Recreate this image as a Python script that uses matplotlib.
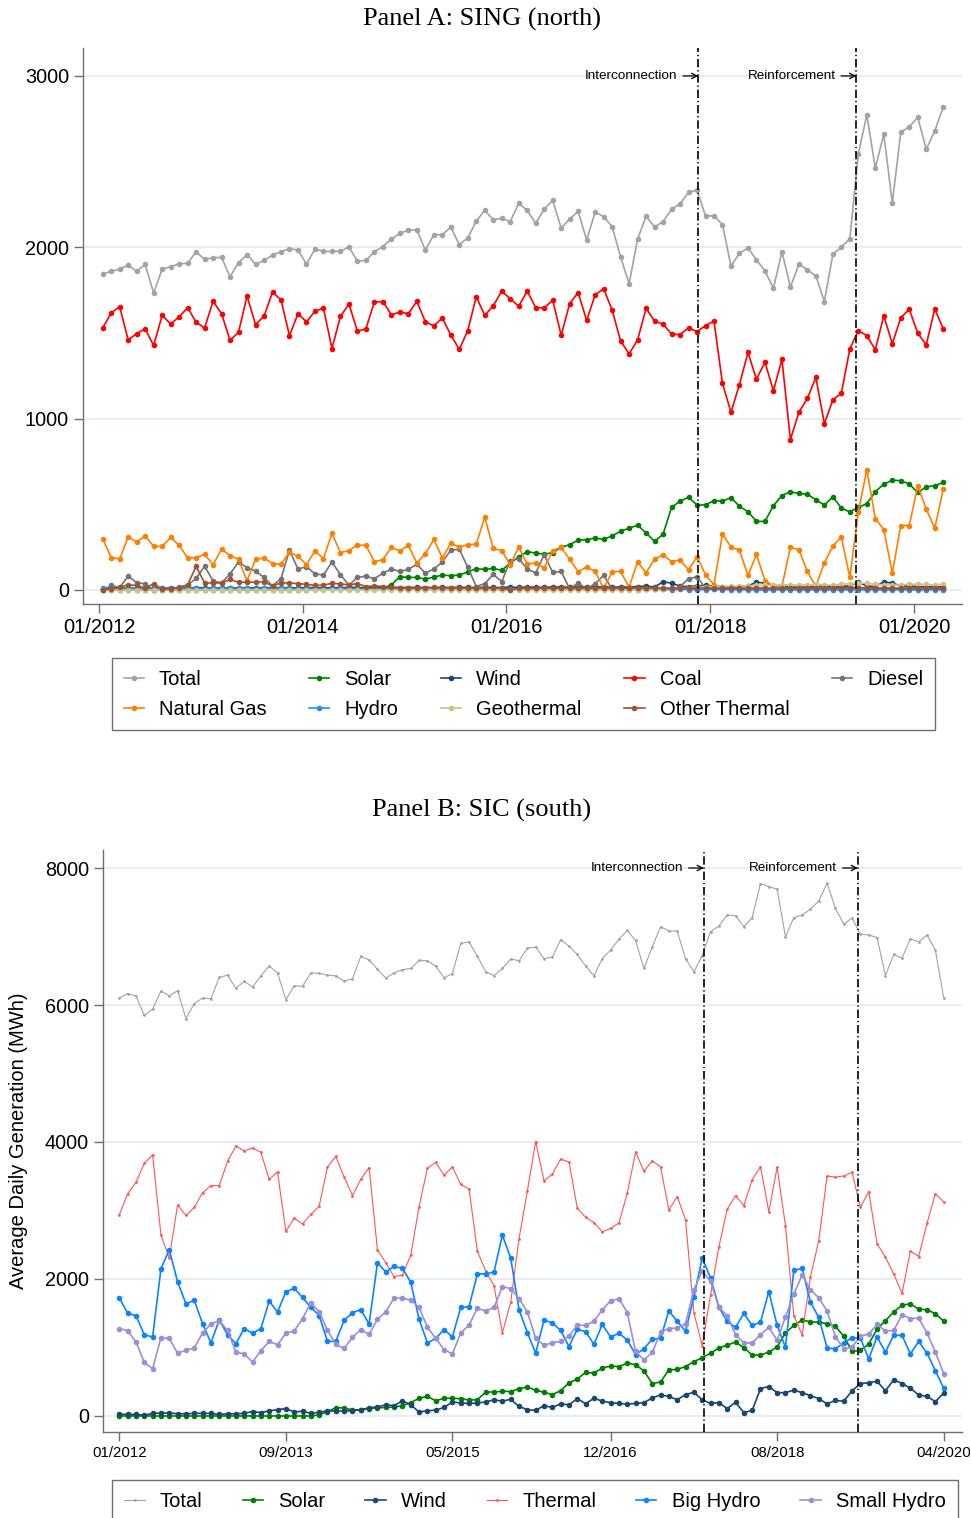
import numpy as np
import matplotlib
matplotlib.use('Agg')
from matplotlib import pyplot as plt

plt.rcParams['font.family'] = ['Liberation Sans', 'DejaVu Sans']

# ---- Panel A: SING (north), monthly 01/2012 - 04/2020 ----
sing_total = [1843, 1860, 1872, 1896, 1860, 1900, 1734, 1872, 1886, 1904, 1906, 1974, 1929, 1939, 1941, 1827, 1911, 1957, 1900, 1923, 1955, 1974, 1992, 1984, 1902,
              1990, 1976, 1976, 1976, 2002, 1919, 1923, 1974, 2004, 2047, 2081, 2100, 2102, 1984, 2073, 2073, 2118, 2016, 2055, 2152, 2217, 2161, 2169, 2150, 2256,
              2215, 2140, 2222, 2274, 2112, 2165, 2209, 2043, 2205, 2179, 2120, 1943, 1787, 2047, 2181, 2118, 2150, 2222, 2254, 2321, 2333, 2183, 2183, 2132, 1890,
              1965, 1996, 1927, 1862, 1760, 1974, 1768, 1902, 1868, 1833, 1683, 1959, 2002, 2049, 2545, 2774, 2461, 2661, 2258, 2671, 2703, 2758, 2571, 2679, 2817]
sing_coal = [1530, 1616, 1654, 1459, 1496, 1524, 1427, 1602, 1553, 1593, 1648, 1563, 1528, 1685, 1612, 1457, 1504, 1715, 1549, 1598, 1738, 1693, 1484, 1612, 1565,
             1626, 1646, 1409, 1596, 1669, 1510, 1524, 1681, 1683, 1606, 1622, 1612, 1685, 1565, 1541, 1587, 1488, 1404, 1514, 1711, 1602, 1659, 1744, 1699, 1656,
             1744, 1648, 1646, 1691, 1486, 1671, 1736, 1573, 1722, 1758, 1634, 1453, 1378, 1459, 1644, 1569, 1551, 1494, 1490, 1530, 1508, 1543, 1569, 1205, 1037,
             1199, 1386, 1230, 1329, 1163, 1346, 878, 1037, 1118, 1240, 970, 1110, 1148, 1407, 1514, 1484, 1402, 1600, 1437, 1589, 1638, 1498, 1431, 1640, 1524]
sing_gas = [299, 189, 181, 311, 280, 315, 254, 254, 307, 260, 187, 189, 207, 148, 238, 201, 179, 53, 179, 187, 154, 150, 220, 197, 148,
            228, 183, 331, 217, 230, 262, 260, 165, 177, 248, 228, 260, 157, 211, 295, 187, 272, 250, 264, 268, 425, 242, 230, 146, 250,
            152, 157, 128, 230, 248, 179, 106, 134, 108, 8, 106, 108, 16, 163, 100, 181, 205, 165, 175, 118, 193, 89, 30, 327, 250,
            232, 85, 207, 55, 24, 20, 250, 234, 108, 20, 159, 256, 309, 73, 457, 701, 417, 352, 98, 376, 376, 608, 472, 360, 587]
sing_solar = [0, 0, 0, 0, 0, 0, 0, 0, 0, 0, 0, 0, 0, 0, 0, 0, 0, 0, 0, 0, 0, 0, 0, 0, 2,
              3, 3, 4, 5, 5, 6, 8, 9, 10, 30, 77, 73, 73, 63, 75, 87, 83, 87, 106, 124, 120, 126, 114, 157, 193,
              224, 215, 209, 217, 250, 264, 291, 293, 303, 295, 315, 343, 360, 378, 333, 283, 325, 482, 518, 541, 496, 496, 522, 518, 539,
              488, 457, 400, 400, 492, 551, 573, 563, 559, 526, 496, 543, 478, 455, 482, 504, 573, 618, 640, 638, 618, 569, 602, 608, 628]
sing_diesel = [0, 26, 14, 81, 43, 35, 2, 0, 8, 16, 28, 67, 138, 53, 41, 94, 163, 130, 110, 73, 24, 65, 232, 122, 136,
               94, 87, 163, 89, 28, 73, 81, 65, 98, 122, 108, 120, 150, 98, 122, 163, 232, 238, 132, 20, 37, 91, 49, 169, 183,
               122, 100, 205, 102, 108, 6, 41, 6, 37, 85, 6, 5, 8, 4, 6, 5, 7, 4, 20, 65, 77, 10, 8, 6, 9,
               7, 6, 8, 5, 7, 9, 6, 8, 5, 7, 6, 8, 9, 12, 15, 10, 8, 6, 9, 7, 8, 6, 9, 7, 8]
sing_other = [0, 8, 16, 30, 26, 10, 37, 4, 8, 14, 30, 138, 41, 41, 41, 61, 45, 45, 45, 47, 24, 41, 41, 37, 33,
              26, 28, 39, 35, 30, 37, 20, 24, 20, 16, 14, 14, 13, 14, 15, 14, 13, 12, 12, 13, 12, 11, 12, 0, 10,
              10, 10, 12, 10, 11, 12, 10, 11, 10, 12, 11, 10, 12, 11, 10, 12, 11, 10, 12, 11, 10, 12, 11, 10, 12,
              11, 10, 12, 11, 10, 12, 11, 10, 12, 11, 10, 12, 11, 10, 12, 11, 10, 12, 11, 10, 12, 11, 10, 12, 11]
sing_wind = [8, 9, 10, 9, 11, 10, 12, 11, 10, 12, 11, 13, 12, 11, 12, 13, 12, 11, 13, 12, 14, 13, 12, 13, 14,
             13, 12, 14, 13, 15, 14, 13, 12, 14, 15, 13, 14, 15, 14, 13, 15, 14, 16, 15, 14, 16, 15, 14, 16, 15,
             17, 16, 15, 18, 17, 16, 18, 17, 19, 18, 16, 18, 17, 20, 22, 18, 47, 40, 22, 20, 24, 26, 22, 20, 18,
             20, 24, 45, 40, 22, 20, 18, 16, 18, 20, 22, 18, 20, 24, 47, 22, 20, 47, 40, 24, 22, 20, 18, 20, 18]
sing_hydro = [12, 11, 12, 10, 11, 9, 8, 10, 11, 12, 10, 9, 8, 9, 10, 11, 10, 9, 8, 10, 11, 10, 9, 8, 9,
              8, 7, 8, 9, 8, 7, 6, 7, 8, 9, 8, 7, 6, 7, 8, 7, 6, 5, 6, 7, 6, 5, 6, 5, 6,
              5, 4, 5, 6, 5, 4, 3, 4, 5, 4, 3, 4, 3, 2, 3, 4, 3, 2, 3, 2, 1, 2, 3, 2, 1,
              0, 1, 0, -1, 0, 1, 0, -1, 0, 1, 0, -1, 0, 1, 0, 1, 0, -1, 0, 1, 0, -1, 0, 1, 0]
sing_geo = [0, 0, 0, 0, 0, 0, 0, 0, 0, 0, 0, 0, 0, 0, 0, 0, 0, 0, 0, 0, 0, 0, 0, 0, 0,
            0, 0, 0, 0, 0, 0, 0, 0, 0, 0, 0, 0, 0, 0, 0, 0, 0, 0, 0, 0, 0, 0, 0, 0, 0,
            0, 0, 0, 0, 0, 0, 0, 0, 0, 0, 0, 0, 0, 2, 4, 6, 8, 10, 12, 14, 16, 18, 20, 20, 22,
            22, 24, 26, 28, 28, 30, 30, 28, 30, 32, 30, 28, 34, 36, 38, 40, 32, 30, 28, 30, 32, 34, 32, 30, 34]

# ---- Panel B: SIC (south) ----
sic_total = [6102, 6166, 6134, 5848, 5940, 6204, 6134, 6209, 5800, 6021, 6102, 6091, 6403, 6436, 6242, 6349, 6263, 6425, 6570, 6468, 6080, 6279, 6274, 6468, 6463,
             6436, 6425, 6349, 6382, 6711, 6657, 6522, 6393, 6468, 6517, 6533, 6651, 6646, 6565, 6398, 6457, 6899, 6921, 6711, 6484, 6430, 6533, 6673, 6646, 6829,
             6845, 6678, 6700, 6953, 6861, 6738, 6570, 6425, 6678, 6802, 6959, 7088, 6942, 6533, 6851, 7142, 7082, 7077, 6678, 6484, 6721, 7072, 7153, 7314, 7304,
             7142, 7277, 7772, 7729, 7692, 6996, 7277, 7314, 7400, 7519, 7778, 7411, 7180, 7271, 7034, 7023, 6985, 6430, 6738, 6684, 6969, 6921, 7023, 6802, 6107]
sic_thermal = [2938, 3245, 3412, 3687, 3816, 2641, 2302, 3083, 2927, 3045, 3261, 3363, 3363, 3719, 3940, 3870, 3913, 3848, 3455, 3563, 2695, 2889, 2803, 2943, 3062,
               3638, 3789, 3487, 3218, 3455, 3627, 2426, 2237, 2032, 2059, 2350, 3056, 3617, 3703, 3514, 3638, 3380, 3315, 2409, 2113, 1903, 1213, 1660, 2587, 3283,
               4005, 3433, 3530, 3751, 3708, 3035, 2900, 2824, 2690, 2738, 2819, 3250, 3854, 3574, 3724, 3638, 3008, 3202, 2862, 1509, 1024, 1763, 2469, 3018, 3218,
               3072, 3450, 3638, 2981, 3633, 2776, 1466, 1186, 2032, 2560, 3504, 3487, 3504, 3557, 3045, 3277, 2517, 2318, 2075, 1789, 2409, 2328, 2814, 3245, 3126]
sic_bighydro = [1725, 1498, 1466, 1186, 1153, 2151, 2426, 1957, 1639, 1687, 1348, 1067, 1401, 1186, 1056, 1277, 1207, 1277, 1676, 1520, 1811, 1865, 1730, 1585, 1466,
                1089, 1089, 1396, 1509, 1552, 1342, 2237, 2102, 2183, 2156, 1951, 1412, 1067, 1132, 1261, 1153, 1585, 1595, 2075, 2075, 2102, 2641, 2307, 1552, 1218,
                916, 1401, 1358, 1250, 1013, 1267, 1229, 1046, 1337, 1153, 1207, 1110, 895, 981, 1121, 1132, 1536, 1380, 1240, 1736, 2307, 2016, 1590, 1380, 1294,
                1498, 1321, 1369, 1816, 1321, 1003, 2124, 2156, 1660, 1439, 992, 981, 1067, 1143, 1132, 835, 1153, 932, 1180, 1175, 906, 1089, 916, 663, 404]
sic_smallhydro = [1277, 1245, 1083, 782, 690, 1143, 1132, 916, 959, 992, 1213, 1342, 1391, 1250, 932, 906, 787, 954, 1089, 1040, 1207, 1240, 1423, 1649, 1520,
                  1250, 1046, 986, 1148, 1261, 1191, 1412, 1520, 1725, 1719, 1692, 1585, 1294, 1132, 970, 906, 1213, 1326, 1574, 1531, 1585, 1887, 1860, 1714, 1520,
                  1132, 1035, 1067, 1089, 1164, 1331, 1321, 1385, 1547, 1682, 1714, 1509, 943, 819, 927, 1224, 1277, 1283, 1348, 1843, 2113, 1967, 1585, 1466, 1186,
                  1067, 1067, 1186, 1294, 1105, 1445, 1779, 2059, 1843, 1725, 1531, 1159, 981, 1008, 1164, 1197, 1337, 1240, 1250, 1477, 1423, 1428, 1213, 933, 620]
sic_solar = [0, 0, 0, 0, 0, 0, 0, 0, 0, 0, 0, 0, 0, 0, 0, 0, 0, 0, 0, 0, 0, 0, 0, 0, 16,
             65, 119, 119, 86, 92, 108, 119, 124, 129, 151, 194, 259, 286, 221, 259, 259, 253, 232, 237, 350, 350, 361, 356, 399, 420,
             377, 345, 313, 367, 485, 539, 636, 625, 701, 728, 722, 771, 749, 658, 474, 496, 674, 679, 722, 792, 852, 916, 992, 1035, 1078,
             997, 889, 889, 932, 1008, 1213, 1321, 1401, 1374, 1369, 1348, 1310, 1164, 943, 959, 1051, 1267, 1391, 1520, 1617, 1639, 1558, 1552, 1493, 1385]
sic_wind = [27, 22, 22, 11, 38, 43, 43, 32, 32, 38, 38, 38, 22, 32, 32, 38, 65, 49, 75, 92, 108, 59, 70, 38, 54,
            75, 70, 75, 75, 92, 119, 135, 162, 151, 221, 162, 59, 75, 86, 124, 205, 189, 183, 189, 205, 237, 216, 243, 140, 92,
            81, 151, 124, 178, 162, 253, 178, 259, 216, 194, 183, 172, 183, 194, 264, 307, 286, 237, 313, 345, 237, 183, 194, 108, 200,
            50, 80, 400, 430, 340, 340, 378, 340, 297, 253, 178, 226, 216, 367, 474, 485, 507, 367, 529, 474, 404, 307, 286, 210, 334]

sing_ticks = [0, 24, 48, 72, 96]
sing_ticklabels = ['01/2012', '01/2014', '01/2016', '01/2018', '01/2020']
sic_ticks = [0, 20, 40, 59, 79, 99]
sic_ticklabels = ['01/2012', '09/2013', '05/2015', '12/2016', '08/2018', '04/2020']
# event dates (month index), as placed on each panel
events_A = [70.6, 89.2]
events_B = [70.2, 88.7]

W, H = 971, 1518
fig = plt.figure(figsize=(W / 100, H / 100), dpi=100)

months = np.arange(len(sing_total))


def style_axes(ax, ticks, labels, xfs):
    for s in ['top', 'right']:
        ax.spines[s].set_visible(False)
    for s in ['left', 'bottom']:
        ax.spines[s].set_color('#6e6e6e')
        ax.spines[s].set_linewidth(1.0)
    ax.grid(axis='y', color='#e6eef1', linewidth=1.4)
    ax.set_axisbelow(True)
    ax.set_xticks(ticks)
    ax.set_xticklabels(labels, fontsize=xfs)
    ax.tick_params(axis='both', direction='out', length=6.5, width=1.0, color='#6e6e6e')
    ax.tick_params(axis='y', labelsize=14.3)


def event_lines(ax, xs, ytext):
    for xpos, txt in zip(xs, ['Interconnection', 'Reinforcement']):
        ax.axvline(xpos, color='black', linewidth=1.2, linestyle=(0, (5, 1.7, 0.8, 1.7)), zorder=5)
        ax.annotate(txt, xy=(xpos, ytext), xytext=(-15, 0), textcoords='offset points',
                    ha='right', va='center', fontsize=9.7,
                    arrowprops=dict(arrowstyle='->', color='black', lw=0.9, shrinkA=2, shrinkB=0))


# Panel A
axA = fig.add_axes([83 / W, 1 - 604 / H, (962 - 83) / W, (604 - 48) / H])
xa = months + 0.44
seriesA = [
    ('Total', sing_total, '#a3a3a3'),
    ('Solar', sing_solar, '#008000'),
    ('Wind', sing_wind, '#1a476f'),
    ('Coal', sing_coal, '#ff0000'),
    ('Diesel', sing_diesel, '#737373'),
    ('Natural Gas', sing_gas, '#ff8000'),
    ('Hydro', sing_hydro, '#1e8cff'),
    ('Geothermal', sing_geo, '#cbc38a'),
    ('Other Thermal', sing_other, '#a0522d'),
]
handlesA = {}
for name, vals, col in seriesA:
    ln, = axA.plot(xa, vals, color=col, linewidth=1.2, marker='o', markersize=4.0,
                   markeredgewidth=0, label=name)
    handlesA[name] = ln
axA.set_xlim(-1.88, 101.65)
axA.set_ylim(-82, 3163)
axA.set_yticks([0, 1000, 2000, 3000])
style_axes(axA, sing_ticks, sing_ticklabels, 14.5)
event_lines(axA, events_A, 3000)

orderA = ['Total', 'Natural Gas', 'Solar', 'Hydro', 'Wind', 'Geothermal', 'Coal', 'Other Thermal', 'Diesel']
legA = fig.legend([handlesA[n] for n in orderA], orderA, ncol=5, loc='upper left',
                  bbox_to_anchor=(112 / W, 1 - 658 / H), borderaxespad=0, fontsize=14.5,
                  frameon=True, fancybox=False, edgecolor='#4a4a4a', handlelength=1.0,
                  handletextpad=0.75, columnspacing=2.12, labelspacing=0.55, borderpad=0.58,
                  numpoints=1)
legA.get_frame().set_linewidth(1.0)

fig.text(482 / W, 1 - 19 / H, 'Panel A: SING (north)', ha='center', va='center',
         fontsize=19, family=['Liberation Serif', 'DejaVu Serif'])

# Panel B
axB = fig.add_axes([103 / W, 1 - 1432 / H, (962 - 103) / W, (1432 - 850) / H])
seriesB = [
    ('Total', sic_total, '#a3a3a3', 0.8, 2.0),
    ('Solar', sic_solar, '#008000', 1.2, 4.0),
    ('Wind', sic_wind, '#1a476f', 1.2, 4.0),
    ('Thermal', sic_thermal, '#ff5555', 0.8, 2.0),
    ('Big Hydro', sic_bighydro, '#0a84ff', 1.2, 4.0),
    ('Small Hydro', sic_smallhydro, '#9b8fd9', 1.2, 4.0),
]
handlesB = []
for name, vals, col, lw, ms in seriesB:
    ln, = axB.plot(months, vals, color=col, linewidth=lw, marker='o', markersize=ms,
                   markeredgewidth=0, label=name)
    handlesB.append(ln)
axB.set_xlim(-1.96, 101.2)
axB.set_ylim(-234, 8263)
axB.set_yticks([0, 2000, 4000, 6000, 8000])
style_axes(axB, sic_ticks, sic_ticklabels, 10.8)
event_lines(axB, events_B, 8000)

legB = fig.legend(handlesB, [s[0] for s in seriesB], ncol=6, loc='upper left',
                  bbox_to_anchor=(112 / W, 1 - 1480 / H), borderaxespad=0, fontsize=14.5,
                  frameon=True, fancybox=False, edgecolor='#4a4a4a', handlelength=1.0,
                  handletextpad=0.75, columnspacing=2.0, borderpad=0.62, numpoints=1)
legB.get_frame().set_linewidth(1.0)

fig.text(482 / W, 1 - 810 / H, 'Panel B: SIC (south)', ha='center', va='center',
         fontsize=19, family=['Liberation Serif', 'DejaVu Serif'])
fig.text(19 / W, 1 - 1141 / H, 'Average Daily Generation (MWh)', ha='center', va='center',
         rotation=90, fontsize=14.5)

fig.savefig('out.png', dpi=100)
